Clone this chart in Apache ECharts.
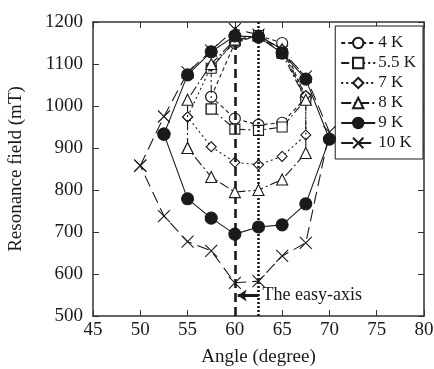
<!DOCTYPE html>
<html><head><meta charset="utf-8">
<script src="https://cdn.jsdelivr.net/npm/echarts@6/dist/echarts.min.js"></script>
<style>html,body{margin:0;padding:0;background:#fff}#c{width:434px;height:369px}</style>
</head><body><div id="c"></div>
<script>
// Data (angle in degree, resonance field in mT)
const x4K  = [57.5, 60, 62.5, 65, 67.5, 65, 62.5, 60, 57.5];
const y4K  = [1022, 1150, 1168, 1150, 1020, 960, 955, 970, 1022];
const x55K = [57.5, 57.5, 60, 62.5, 65, 67.5, 65, 62.5, 60, 57.5];
const y55K = [993, 1090, 1155, 1168, 1125, 1015, 950, 942, 945, 993];
const x7K  = [55, 57.5, 60, 62.5, 65, 67.5, 67.5, 65, 62.5, 60, 57.5, 55];
const y7K  = [974, 1095, 1152, 1168, 1135, 1025, 931, 880, 860, 866, 903, 974];
const x8K  = [55, 55, 57.5, 60, 62.5, 65, 67.5, 67.5, 65, 62.5, 60, 57.5, 55];
const y8K  = [900, 1015, 1100, 1158, 1168, 1135, 1015, 888, 825, 800, 795, 831, 900];
const x9K  = [52.5, 55, 57.5, 60, 62.5, 65, 67.5, 70, 67.5, 65, 62.5, 60, 57.5, 55, 52.5];
const y9K  = [933, 1074, 1129, 1167, 1164, 1126, 1064, 921, 767, 717, 712, 695, 733, 779, 933];
const x10K = [50, 52.5, 55, 57.5, 60, 62.5, 65, 67.5, 70, 67.5, 65, 62.5, 60, 57.5, 55, 52.5, 50];
const y10K = [858, 975, 1080, 1132, 1183, 1170, 1130, 1070, 938, 674, 643, 583, 579, 655, 677, 738, 858];
const seriesNames = ['4 K', '5.5 K', '7 K', '8 K', '9 K', '10 K'];
const easyAxisAngle = 60, otherAngle = 62.5, arrowField = 549;
const xTicks = {min: 45, max: 80, interval: 5};
const yTicks = {min: 500, max: 1200, interval: 100};

const FONT = '"Liberation Serif", "DejaVu Serif", serif';
const INK = '#1a1a1a';
const pairs = (xs, ys) => xs.map((v, i) => [v, ys[i]]);
const XPATH = 'path://M0,0L10,10M10,0L0,10';

function mk(name, xs, ys, symbol, size, dash, fill, z) {
  return {
    name, type: 'line', data: pairs(xs, ys), symbol, symbolSize: size,
    z: z,
    lineStyle: {color: INK, width: 1.1, type: dash},
    itemStyle: {color: fill, borderColor: INK, borderWidth: 1.1},
    emphasis: {disabled: true}, animation: false
  };
}

const series = [
  mk(seriesNames[0], x4K, y4K, 'circle', 11, [4, 3], '#fff', 2),
  mk(seriesNames[1], x55K, y55K, 'rect', 10, [8, 3, 2, 3], '#fff', 3),
  mk(seriesNames[2], x7K, y7K, 'diamond', 10, [2, 3], '#fff', 4),
  mk(seriesNames[3], x8K, y8K, 'triangle', 11, [10, 3, 2, 3], '#fff', 5),
  mk(seriesNames[4], x9K, y9K, 'circle', 12, 'solid', INK, 6),
  mk(seriesNames[5], x10K, y10K, XPATH, 12, [12, 6], 'rgba(0,0,0,0)', 7),
  {
    name: 'ref', type: 'line', data: [], z: 1, animation: false,
    markLine: {
      silent: true, symbol: ['none', 'none'], animation: false,
      label: {show: false},
      data: [
        {xAxis: easyAxisAngle, lineStyle: {color: INK, width: 2.6, type: [9, 5]}},
        {xAxis: otherAngle, lineStyle: {color: INK, width: 2.6, type: [2, 2]}}
      ]
    }
  },
  {
    name: 'arrow', type: 'line', data: [], z: 8, animation: false,
    markLine: {
      silent: true, symbol: ['none', 'arrow'], symbolSize: [9, 9], animation: false,
      lineStyle: {color: INK, width: 3, type: 'solid'},
      label: {show: true, position: 'start', formatter: 'The easy-axis', color: INK,
              fontFamily: FONT, fontSize: 18, distance: 4},
      data: [[{coord: [otherAngle, arrowField]}, {coord: [easyAxisAngle + 0.3, arrowField]}]]
    }
  }
];

const axisCommon = {
  axisLine: {show: true, lineStyle: {color: '#333', width: 1.5}},
  splitLine: {show: false},
};

const option = {
  backgroundColor: '#fff',
  animation: false,
  grid: {left: 93, right: 10, top: 22, bottom: 53, containLabel: false, outerBoundsMode: 'none'},
  legend: {
    data: seriesNames, orient: 'vertical', right: 11, top: 26,
    backgroundColor: '#fff', borderColor: INK, borderWidth: 1,
    padding: [8, 7, 7, 5], itemGap: 2, itemWidth: 34, itemHeight: 13,
    textStyle: {fontFamily: FONT, fontSize: 17, color: INK, padding: [0, 0, 0, -2], lineHeight: 18},
    selectedMode: false
  },
  xAxis: [
    Object.assign({type: 'value', min: xTicks.min, max: xTicks.max, interval: xTicks.interval,
      name: 'Angle (degree)', nameLocation: 'middle', nameGap: 32,
      nameTextStyle: {fontFamily: FONT, fontSize: 19, color: INK},
      axisTick: {inside: true, length: 6, lineStyle: {color: '#333'}},
      axisLabel: {fontFamily: FONT, fontSize: 19, color: INK, margin: 5}}, axisCommon),
    Object.assign({type: 'value', position: 'top', min: xTicks.min, max: xTicks.max, interval: xTicks.interval,
      axisTick: {inside: true, length: 6, lineStyle: {color: '#333'}},
      axisLabel: {show: false}}, axisCommon)
  ],
  yAxis: [
    Object.assign({type: 'value', min: yTicks.min, max: yTicks.max, interval: yTicks.interval,
      name: 'Resonance field (mT)', nameLocation: 'middle', nameGap: 67,
      nameTextStyle: {fontFamily: FONT, fontSize: 19, color: INK},
      axisTick: {inside: true, length: 6, lineStyle: {color: '#333'}},
      axisLabel: {fontFamily: FONT, fontSize: 19, color: INK, margin: 10, formatter: v => String(v)}}, axisCommon),
    Object.assign({type: 'value', position: 'right', min: yTicks.min, max: yTicks.max, interval: yTicks.interval,
      axisTick: {inside: true, length: 6, lineStyle: {color: '#333'}},
      axisLabel: {show: false}}, axisCommon)
  ],
  series
};

const chart = echarts.init(document.getElementById('c'), null, {renderer: 'canvas'});
chart.setOption(option);
</script>
</body></html>
